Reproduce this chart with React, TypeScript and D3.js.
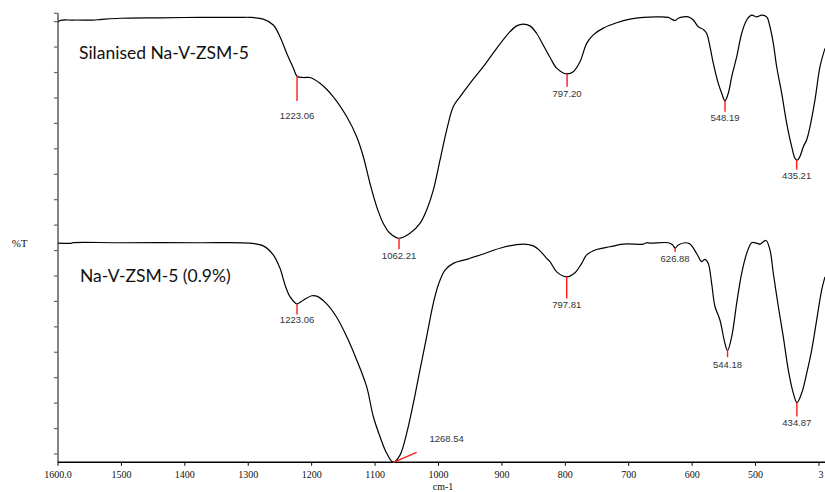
import React from "react";
import * as d3 from "d3";

// ---------- data ----------
const xTickValues = [1600, 1500, 1400, 1300, 1200, 1100, 1000, 900, 800, 700, 600, 500, 400];
const xTickLabels = ["1600.0", "1500", "1400", "1300", "1200", "1100", "1000", "900", "800", "700", "600", "500", "3"];

const sampleNames = ["Silanised Na-V-ZSM-5", "Na-V-ZSM-5 (0.9%)"];

// Silanised Na-V-ZSM-5 (wavenumber cm-1, %T arbitrary scale)
const silanisedWn = [
  1600, 1596.8, 1576.3, 1544.8, 1533.8, 1502.2, 1439.2, 1376.1, 1313.0, 1297.2,
  1276.3, 1260.5, 1249.9, 1239.4, 1228.9, 1223.0, 1213.2, 1202.6, 1186.9, 1165.9,
  1144.8, 1129.0, 1118.6, 1108.0, 1097.4, 1087.0, 1076.5, 1062.2, 1044.9, 1029.2,
  1018.6, 1008.2, 997.6, 987.1, 976.7, 966.1, 950.3, 929.4, 908.2, 887.2,
  876.7, 866.3, 855.7, 845.1, 834.7, 824.2, 813.6, 797.8, 787.4, 776.9,
  766.3, 755.9, 740.1, 719.0, 698.0, 677.0, 655.9, 637.6, 632.3, 627.0,
  621.9, 613.9, 606.1, 598.2, 590.3, 582.4, 577.1, 571.9, 566.7, 558.8,
  553.4, 548.2, 543.0, 537.6, 529.8, 521.9, 514.0, 506.1, 498.3, 490.4,
  482.5, 477.3, 472.0, 466.7, 458.8, 450.9, 443.0, 437.8, 434.2, 430.0,
  424.7, 419.4, 414.2, 406.3, 398.4, 390.5,
];
const silanisedT = [
  98.0, 98.4, 98.5, 98.5, 98.6, 98.9, 99.0, 99.1, 99.1, 99.1,
  98.7, 97.4, 94.8, 91.1, 87.8, 86.0, 85.7, 85.7, 84.4, 81.4,
  77.0, 72.5, 68.1, 62.1, 56.9, 53.2, 51.0, 49.9, 51.0, 53.2,
  56.2, 60.6, 67.3, 74.0, 79.2, 81.4, 84.4, 88.1, 92.2, 95.9,
  97.2, 97.6, 97.2, 95.5, 92.9, 90.2, 87.8, 86.5, 87.0, 89.2,
  93.3, 95.2, 96.7, 97.9, 98.7, 99.1, 99.2, 99.1, 98.7, 98.4,
  98.9, 99.2, 99.2, 98.5, 97.0, 96.4, 95.5, 92.6, 88.9, 84.4,
  82.2, 80.5, 82.2, 85.9, 90.3, 95.5, 98.5, 99.6, 99.2, 99.6,
  99.2, 97.0, 93.3, 88.1, 82.2, 75.5, 70.3, 67.7, 67.3, 68.1,
  70.3, 71.8, 74.7, 80.7, 88.1, 92.2,
];

// Na-V-ZSM-5 (0.9%)
const nativeWn = [
  1600, 1578.4, 1577.1, 1502.2, 1376.1, 1297.2, 1276.3, 1260.5, 1249.9, 1242.0,
  1234.2, 1223.6, 1213.2, 1199.9, 1192.1, 1176.3, 1160.5, 1144.8, 1129.0, 1113.2,
  1102.8, 1092.2, 1081.7, 1071.3, 1060.7, 1050.1, 1039.7, 1029.2, 1018.6, 1008.2,
  1000.3, 989.7, 976.7, 955.5, 929.4, 897.8, 866.3, 850.5, 839.9, 829.4,
  824.2, 813.6, 797.8, 784.8, 774.2, 766.3, 750.5, 729.6, 708.6, 677.0,
  671.7, 666.5, 637.6, 630.7, 626.9, 621.9, 611.3, 603.4, 592.9, 585.0,
  579.8, 574.6, 569.3, 564.0, 556.2, 548.3, 544.2, 537.6, 529.8, 521.9,
  514.0, 506.1, 498.3, 493.0, 483.6, 477.3, 472.0, 464.1, 456.3, 448.4,
  440.5, 434.8, 427.3, 419.4, 411.5, 403.6, 395.7, 390.5,
];
const nativeT = [
  48.8, 48.8, 48.9, 48.9, 48.9, 48.8, 48.2, 46.2, 43.2, 39.5,
  36.9, 35.3, 36.1, 37.1, 37.0, 35.3, 32.3, 28.0, 22.8, 16.8,
  10.2, 5.7, 2.0, 0.0, 1.6, 6.5, 13.1, 20.6, 28.0, 35.4,
  39.5, 42.8, 44.3, 45.2, 46.4, 47.9, 48.6, 48.2, 47.1, 45.4,
  44.7, 42.4, 41.3, 42.2, 44.3, 46.2, 47.4, 48.0, 48.6, 48.6,
  48.9, 48.8, 48.9, 48.4, 47.7, 48.4, 48.9, 48.6, 46.5, 44.7,
  45.2, 44.3, 39.9, 34.7, 31.7, 26.5, 24.9, 28.0, 35.4, 42.1,
  46.5, 48.9, 48.8, 48.6, 49.4, 47.3, 42.1, 34.7, 28.0, 20.6,
  15.4, 13.3, 15.4, 19.8, 25.0, 31.7, 38.4, 41.3,
];

const silanisedPeaks = [1223.06, 1062.21, 797.2, 548.19, 435.21];
const silanisedPeakLabels = ["1223.06", "1062.21", "797.20", "548.19", "435.21"];
const nativePeaks = [1223.06, 797.81, 626.88, 544.18, 434.87];
const nativePeakLabels = ["1223.06", "797.81", "626.88", "544.18", "434.87"];

const annotationWn = 1071.3;
const annotationLabel = "1268.54";

// ---------- layout (pixels) ----------
const W = 825;
const H = 492;
const M = { left: 58, right: 825, top: 13.3, bottom: 462.3 };
const silMarkerLen = [25, 11, 13, 11, 10];
const silLabelGap = [18, 10, 10, 9, 9];
const natMarkerLen = [11, 21.6, 4, 6.7, 14];
const natLabelGap = [8.5, 10, 10, 10.5, 9.5];

export default function App() {
  const x = d3.scaleLinear().domain([1600, 390.5]).range([M.left, M.right]);
  const y = d3.scaleLinear().domain([0, 100]).range([M.bottom, M.top]);

  const line = d3
    .line<[number, number]>()
    .x((d) => x(d[0]))
    .y((d) => y(d[1]))
    .curve(d3.curveCatmullRom.alpha(0.5));

  const silPts: [number, number][] = silanisedWn.map((w, i) => [w, silanisedT[i]]);
  const natPts: [number, number][] = nativeWn.map((w, i) => [w, nativeT[i]]);

  const silInterp = d3.scaleLinear().domain(silanisedWn).range(silanisedT);
  const natInterp = d3.scaleLinear().domain(nativeWn).range(nativeT);

  // y ticks (unlabelled): every 5.664 units from 1.85, plus axis top
  const yTicks = [...d3.range(18).map((k) => 1.85 + 5.664 * k), 100];

  const red = "#ff1a1a";
  const peakFont = { fontFamily: "'Liberation Sans', Arial, sans-serif", fontSize: 9.5, fill: "#333" };
  const serif = { fontFamily: "'Liberation Serif', 'Times New Roman', serif", fill: "#111" };

  const renderPeaks = (
    peaks: number[],
    labels: string[],
    interp: d3.ScaleLinear<number, number>,
    lens: number[],
    gaps: number[],
    key: string
  ) =>
    peaks.map((p, i) => {
      const px = x(p);
      const py = y(interp(p));
      const endY = py + lens[i];
      return (
        <g key={key + i}>
          <line x1={px} x2={px} y1={py} y2={endY} stroke={red} strokeWidth={1.4} />
          <text x={px} y={endY + gaps[i]} textAnchor="middle" {...peakFont}>
            {labels[i]}
          </text>
        </g>
      );
    });

  const ax = x(annotationWn);
  const ay = y(natInterp(annotationWn));

  return (
    <svg
      width={W}
      height={H}
      style={{ position: "absolute", left: 0, top: 0, display: "block", background: "#fff" }}
    >
      <rect x={0} y={0} width={W} height={H} fill="#fff" />
      {/* y axis */}
      <line x1={M.left} x2={M.left} y1={M.top} y2={M.bottom} stroke="#666" strokeWidth={1.6} />
      {yTicks.map((t, i) => (
        <line key={"yt" + i} x1={M.left - 4} x2={M.left} y1={y(t)} y2={y(t)} stroke="#666" strokeWidth={1.2} />
      ))}
      {/* x axis */}
      <line x1={M.left} x2={W} y1={M.bottom} y2={M.bottom} stroke="#000" strokeWidth={1.5} />
      {xTickValues.map((v, i) => (
        <g key={"xt" + i}>
          <line x1={x(v)} x2={x(v)} y1={M.bottom} y2={M.bottom + 3.5} stroke="#000" strokeWidth={1} />
          <text
            x={i === xTickValues.length - 1 ? x(v) - 0.5 : x(v)}
            y={478.3}
            textAnchor={i === xTickValues.length - 1 ? "start" : "middle"}
            fontSize={10}
            {...serif}
          >
            {xTickLabels[i]}
          </text>
        </g>
      ))}
      <text x={443} y={490} textAnchor="middle" fontSize={10} {...serif}>
        cm-1
      </text>
      <text x={11.7} y={247.3} fontSize={11} {...serif}>
        %T
      </text>

      {/* spectra */}
      <path d={line(silPts) || ""} fill="none" stroke="#000" strokeWidth={1.2} />
      <path d={line(natPts) || ""} fill="none" stroke="#000" strokeWidth={1.2} />

      {/* sample names */}
      <text x={79} y={59.3} fontFamily="Lato, 'Open Sans', sans-serif" fontSize={17.5} fill="#111">
        {sampleNames[0]}
      </text>
      <text x={80} y={281.7} fontFamily="Lato, 'Open Sans', sans-serif" fontSize={17.5} fill="#111">
        {sampleNames[1]}
      </text>

      {/* peak markers */}
      {renderPeaks(silanisedPeaks, silanisedPeakLabels, silInterp, silMarkerLen, silLabelGap, "s")}
      {renderPeaks(nativePeaks, nativePeakLabels, natInterp, natMarkerLen, natLabelGap, "n")}

      {/* slanted annotation */}
      <line x1={ax} y1={ay} x2={ax + 23.4} y2={ay - 10} stroke={red} strokeWidth={1.4} />
      <text x={ax + 53.4} y={ay - 20.5} textAnchor="middle" {...peakFont}>
        {annotationLabel}
      </text>
    </svg>
  );
}
